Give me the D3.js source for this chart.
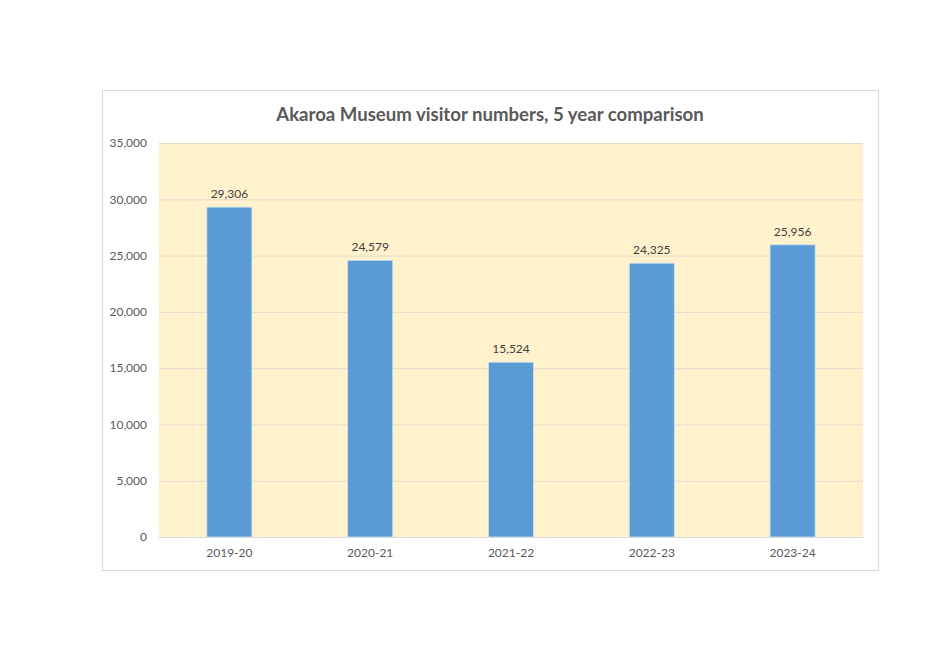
<!DOCTYPE html>
<html><head><meta charset="utf-8">
<script src="https://cdn.jsdelivr.net/npm/d3@7"></script>
<style>body{margin:0;background:#fff}svg{display:block}text{font-family:Lato,"Open Sans",sans-serif}</style>
</head><body>
<svg id="c" width="934" height="661"></svg>
<script>
const categories = ["2019-20","2020-21","2021-22","2022-23","2023-24"];
const visitors = [29306,24579,15524,24325,25956];
const yTicks = [0,5000,10000,15000,20000,25000,30000,35000];
const title = "Akaroa Museum visitor numbers, 5 year comparison";

const svg = d3.select("#c");
svg.append("rect").attr("x",102.5).attr("y",90.5).attr("width",776).attr("height",480)
  .attr("fill","#fff").attr("stroke","#d9d9d9").attr("stroke-width",1);

const L=159,R=863,T=143,B=537;
const x = d3.scaleBand().domain(categories).range([L,R]).paddingInner(0.68).paddingOuter(0.34);
const y = d3.scaleLinear().domain([0,35000]).range([B,T]);

svg.append("rect").attr("x",L).attr("y",T).attr("width",R-L).attr("height",B-T).attr("fill","#fff2cc");

const fmt = d3.format(",");
const yAxis = svg.append("g").attr("transform",`translate(${L},0)`)
  .call(d3.axisLeft(y).tickValues(yTicks).tickSize(-(R-L)).tickFormat(d=>fmt(d)).tickPadding(12));
yAxis.select(".domain").remove();
yAxis.selectAll(".tick line").attr("stroke","#e3dccb").attr("stroke-width",1);
yAxis.selectAll(".tick text").attr("fill","#595959").attr("font-size","12px");

const xAxis = svg.append("g").attr("transform",`translate(0,${B})`)
  .call(d3.axisBottom(x).tickSize(0).tickPadding(11));
xAxis.select(".domain").attr("stroke","#d9d9d9");
xAxis.selectAll(".tick text").attr("fill","#595959").attr("font-size","12px");

svg.selectAll(".bar").data(visitors).enter().append("rect")
  .attr("x",(d,i)=>x(categories[i])).attr("y",d=>y(d))
  .attr("width",x.bandwidth()).attr("height",d=>B-y(d))
  .attr("fill","#5b9bd5").attr("stroke","#cfe0f0").attr("stroke-width",0.8);

svg.selectAll(".lbl").data(visitors).enter().append("text")
  .attr("x",(d,i)=>x(categories[i])+x.bandwidth()/2).attr("y",d=>y(d)-9)
  .attr("text-anchor","middle").attr("fill","#404040").attr("font-size","12px").text(d=>fmt(d));

svg.append("text").attr("x",490).attr("y",121).attr("text-anchor","middle")
  .attr("fill","#595959").attr("font-size","18.6px").attr("font-weight","bold").text(title);
</script>
</body></html>
